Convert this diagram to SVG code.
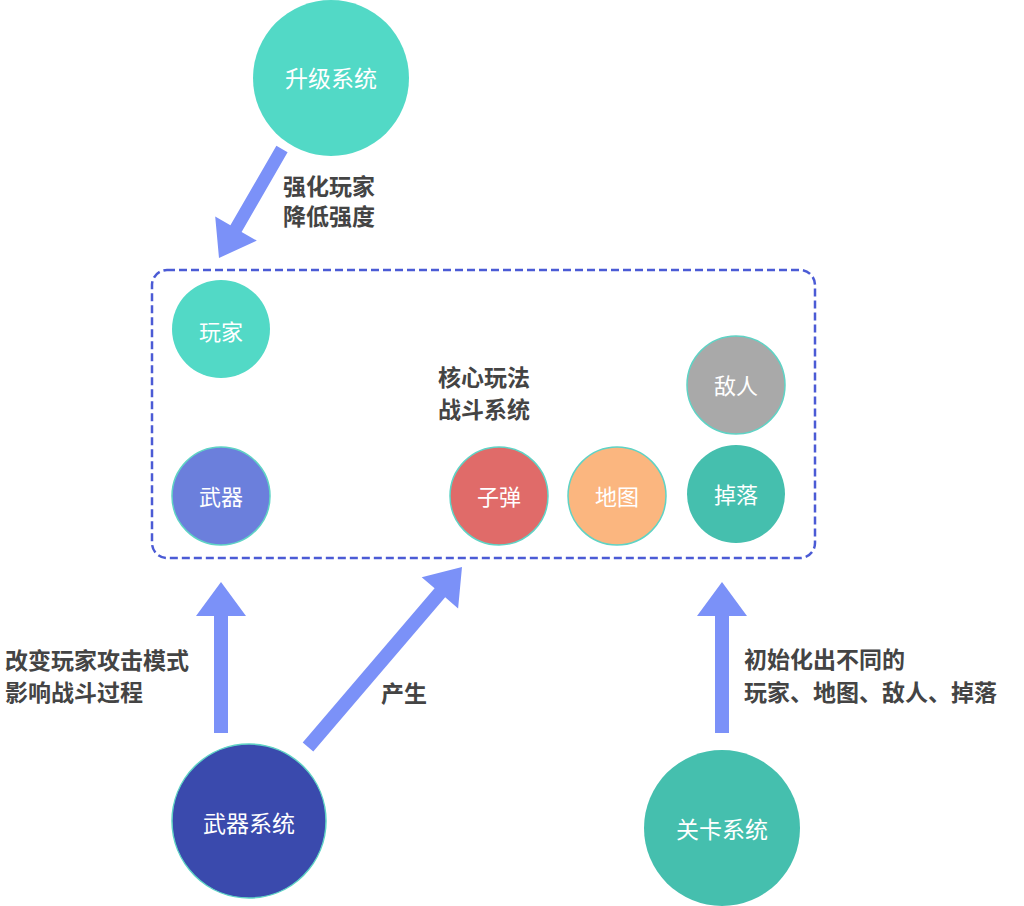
<svg xmlns="http://www.w3.org/2000/svg" width="1024" height="906" viewBox="0 0 1024 906">
<style>
.node text{font-family:"Liberation Sans","Noto Sans CJK SC",sans-serif;fill:#ffffff;text-anchor:middle;}
.lbl{font-family:"Liberation Sans","Noto Sans CJK SC",sans-serif;font-weight:bold;fill:#444444;font-size:23px;}
.arrow{fill:#7b91f8;}
.ring{stroke:#5fd3c5;stroke-width:1.5;}
</style>
<rect width="1024" height="906" fill="#ffffff"/>
<g id="battle-box">
<rect x="152" y="270" width="663" height="288" rx="15" ry="15" fill="none" stroke="#4b5bd5" stroke-width="2.5" stroke-dasharray="8 4"/>
<text class="lbl" x="484" y="386" text-anchor="middle">核心玩法</text>
<text class="lbl" x="484" y="418" text-anchor="middle">战斗系统</text>
</g>
<g id="connectors">
<polygon class="arrow" points="276.4,145.7 230.4,225.3 215.2,216.6 219,258 256.8,240.6 241.6,231.9 287.6,152.3"/>
<polygon class="arrow" points="214,733 214,616 196,616 221,582 246,616 228,616 228,733"/>
<polygon class="arrow" points="302.7,742.5 434.6,588.2 421.7,577.2 462,567 458.1,608.4 445.2,597.3 313.3,751.6"/>
<polygon class="arrow" points="715,733 715,616 697,616 722,582 747,616 729,616 729,733"/>
<text class="lbl" x="283" y="195">强化玩家</text>
<text class="lbl" x="283" y="225">降低强度</text>
<text class="lbl" x="5" y="669">改变玩家攻击模式</text>
<text class="lbl" x="5" y="701">影响战斗过程</text>
<text class="lbl" x="381" y="702">产生</text>
<text class="lbl" x="744" y="668">初始化出不同的</text>
<text class="lbl" x="744" y="701">玩家、地图、敌人、掉落</text>
</g>
<g id="upgrade" class="node"><circle cx="331" cy="78" r="78" fill="#52d9c6"/><text x="331" y="87" font-size="23">升级系统</text></g>
<g id="player" class="node"><circle cx="221" cy="329" r="49" fill="#52d9c6"/><text x="221" y="340" font-size="22">玩家</text></g>
<g id="enemy" class="node"><circle cx="736" cy="385" r="49" fill="#a9a9a9" class="ring"/><text x="736" y="394" font-size="22">敌人</text></g>
<g id="weapon" class="node"><circle cx="221" cy="496" r="49" fill="#6b7fdc" class="ring"/><text x="221" y="505" font-size="22">武器</text></g>
<g id="bullet" class="node"><circle cx="499" cy="496" r="49" fill="#e06b69" class="ring"/><text x="499" y="505" font-size="22">子弹</text></g>
<g id="map" class="node"><circle cx="617" cy="496" r="49" fill="#fbb67f" class="ring"/><text x="617" y="505" font-size="22">地图</text></g>
<g id="drop" class="node"><circle cx="736" cy="494" r="49" fill="#45bfae"/><text x="736" y="503" font-size="22">掉落</text></g>
<g id="weapon-system" class="node"><circle cx="249" cy="821" r="77" fill="#3a4aad" class="ring"/><text x="249" y="832" font-size="23">武器系统</text></g>
<g id="level-system" class="node"><circle cx="722" cy="828" r="78" fill="#45bfae"/><text x="722" y="838" font-size="23">关卡系统</text></g>
</svg>
